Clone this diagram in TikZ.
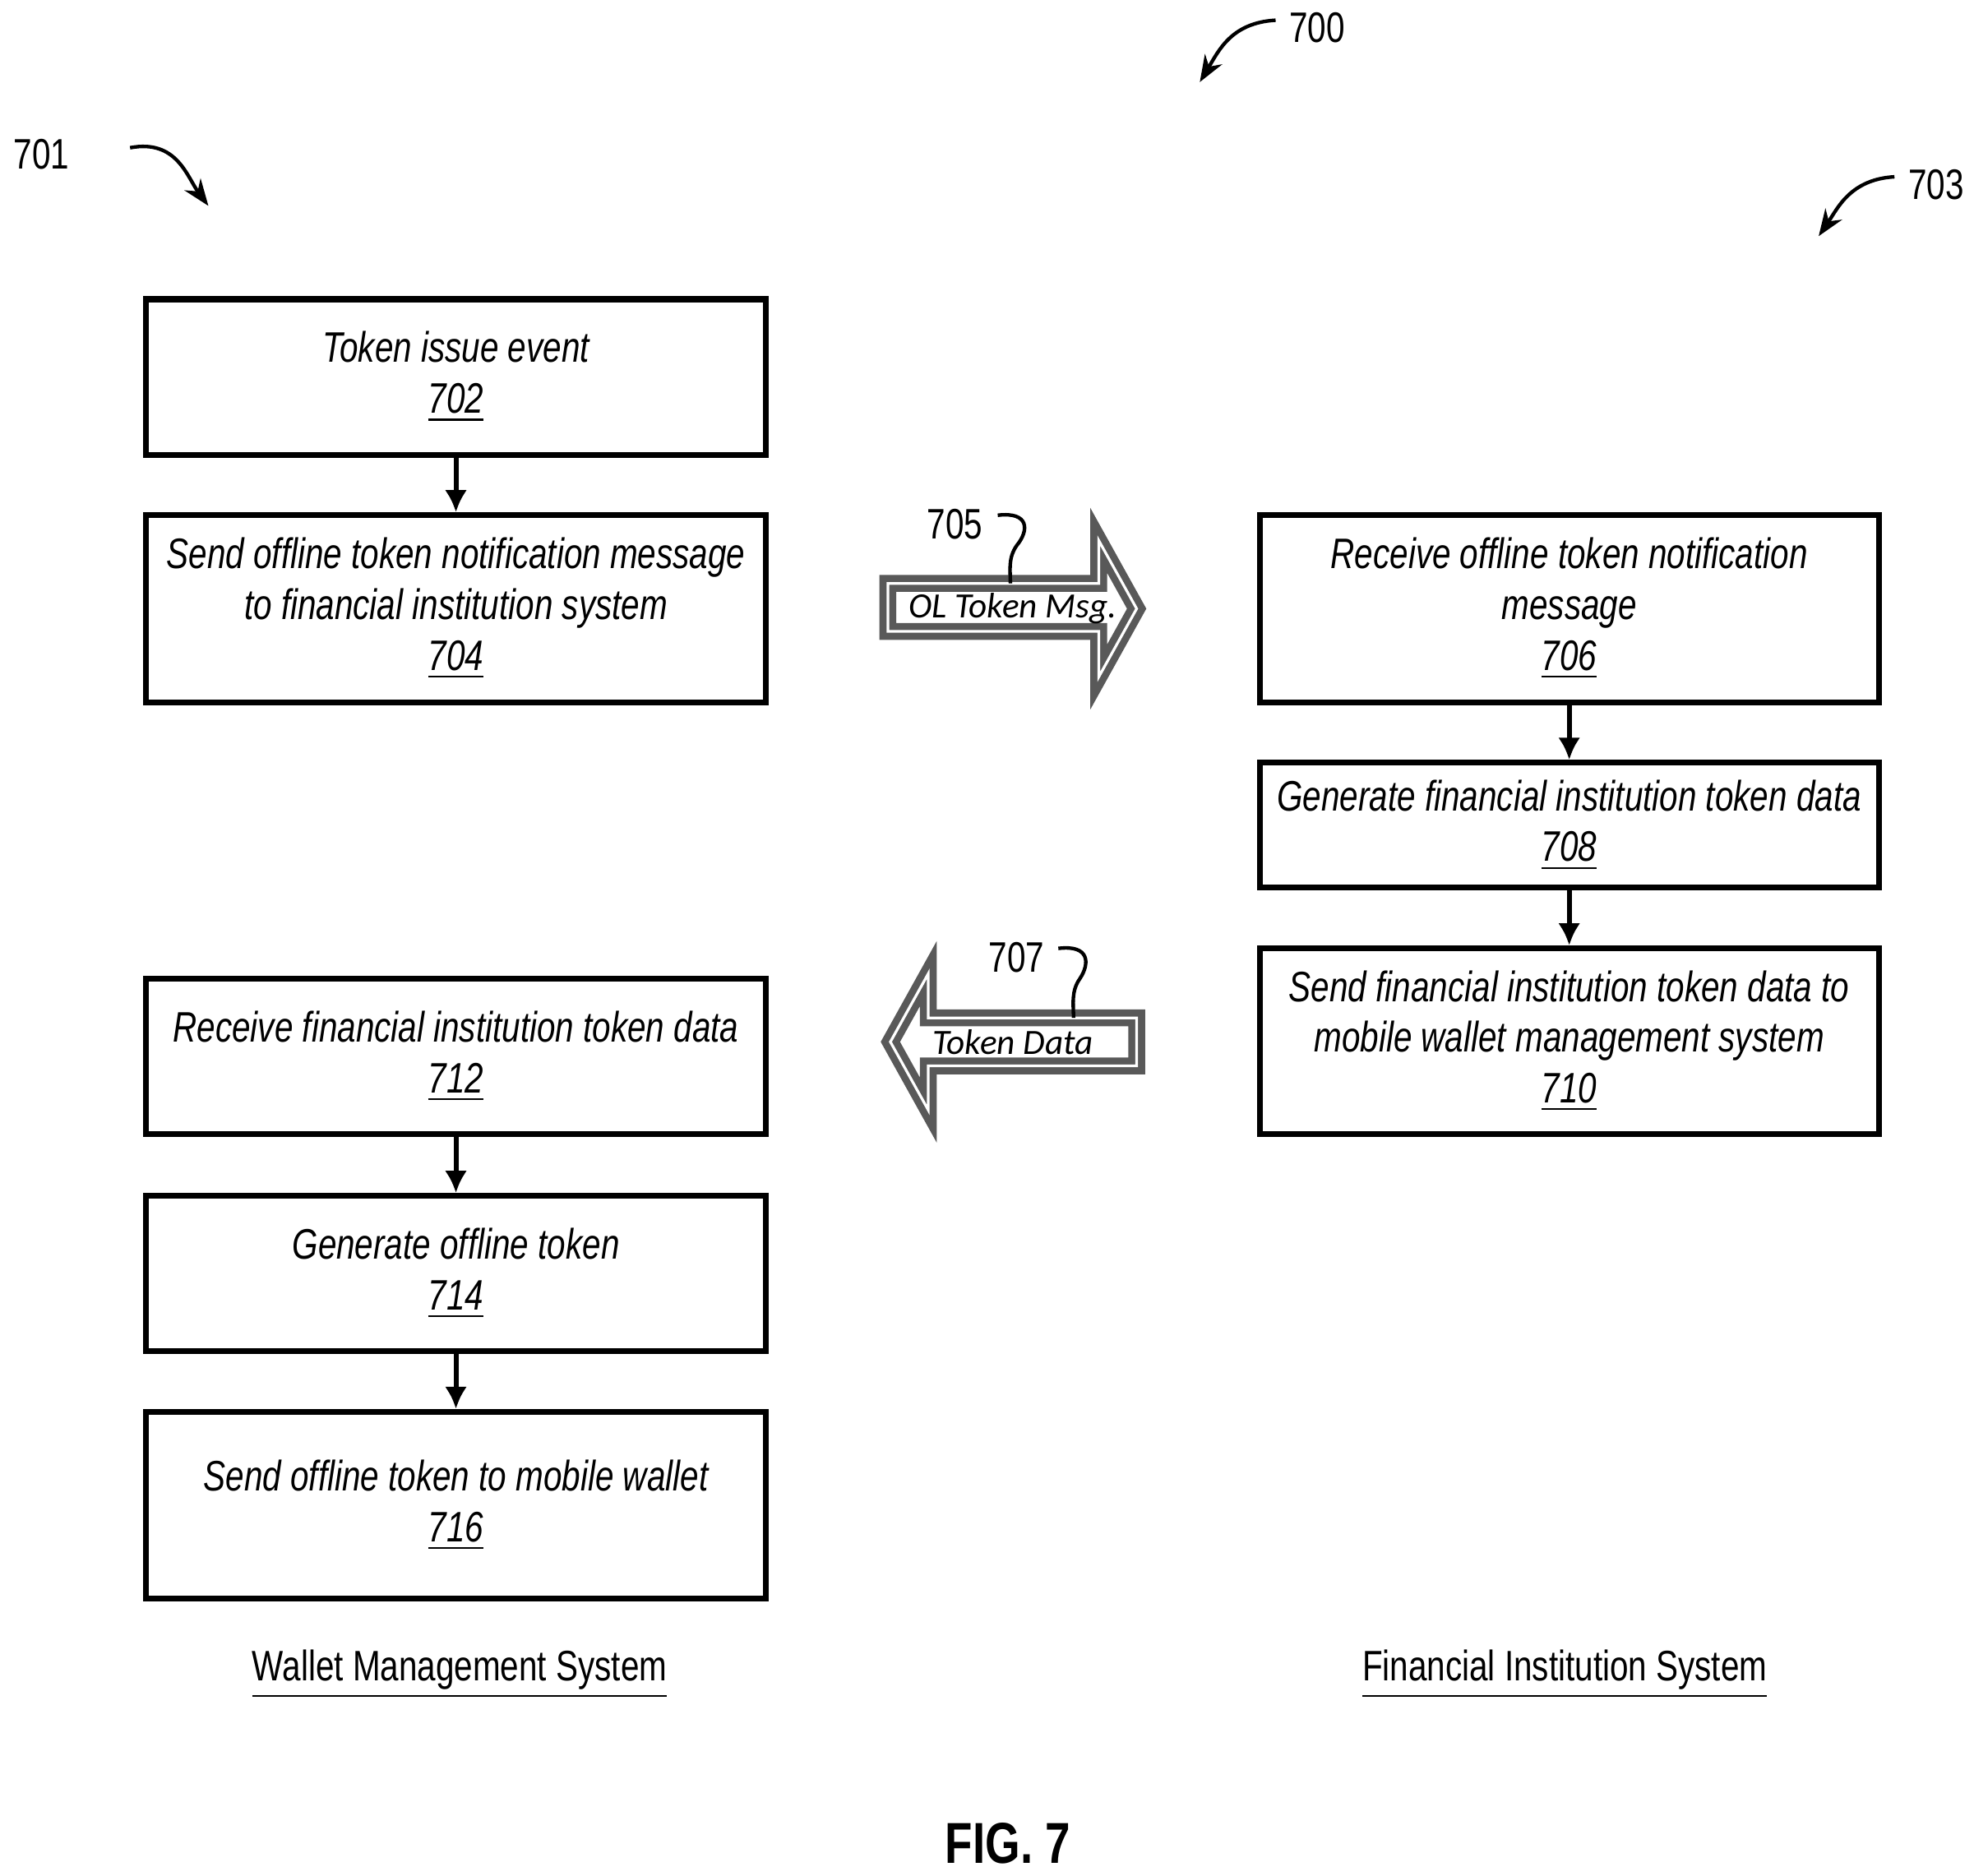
\documentclass[tikz,border=0pt]{standalone}
\usepackage{fontspec}
\usetikzlibrary{arrows.meta}
\setmainfont{Liberation Sans}
\newfontfamily\nar[FakeStretch=0.78]{Liberation Sans}
\newfontfamily\carl{Carlito}
\begin{document}
\begin{tikzpicture}[x=0.01cm,y=-0.01cm,
 box/.style={draw,line width=1.3pt,align=center,inner sep=0pt,minimum width=4.9cm,font=\nar\itshape\fontsize{9.6}{11.4}\selectfont},
 flow/.style={-{Latex[length=5pt,width=5pt]},line width=1.1pt},
 ref/.style={font=\nar\fontsize{9.6}{11}\selectfont},
 lead/.style={line width=0.8pt},
 blk/.style={draw=gray!70!black,line width=1.6pt,double=white,double distance=0.6pt,fill=white},
 blt/.style={font=\carl\itshape\fontsize{8}{9}\selectfont}]
\useasboundingbox (0,0) rectangle (1563,1485);
\node[box,minimum height=1.23cm] (b702) at (361,298.5) {Token issue event\\\underline{702}};
\node[box,minimum height=1.48cm] (b704) at (361,482) {Send offline token notification message\\to financial institution system\\\underline{704}};
\node[box,minimum height=1.48cm] (b706) at (1242.5,482) {Receive offline token notification\\message\\\underline{706}};
\node[box,minimum height=0.99cm] (b708) at (1242.5,653.5) {Generate financial institution token data\\\underline{708}};
\node[box,minimum height=1.47cm] (b710) at (1242.5,824.5) {Send financial institution token data to\\mobile wallet management system\\\underline{710}};
\node[box,minimum height=1.23cm] (b712) at (361,836.5) {Receive financial institution token data\\\underline{712}};
\node[box,minimum height=1.23cm] (b714) at (361,1008.5) {Generate offline token\\\underline{714}};
\node[box,minimum height=1.48cm] (b716) at (361,1192) {Send offline token to mobile wallet\\\underline{716}};
\draw[flow] (b702) -- (b704);
\draw[flow] (b712) -- (b714);
\draw[flow] (b714) -- (b716);
\draw[flow] (b706) -- (b708);
\draw[flow] (b708) -- (b710);
\node[ref] (wms) at (364,1326) {\underline{Wallet Management System}};
\node[ref] (fis) at (1239,1326) {\underline{Financial Institution System}};
\node[font=\nar\bfseries\fontsize{13}{15}\selectfont] (fig) at (798,1460) {FIG. 7};
\node[ref] (r700) at (1043,22) {700};
\coordinate (t700) at (950,65);
\draw[lead,-{Stealth[length=6pt]}] (1010,16) .. controls (975,18) and (965,40) .. (t700);
\node[ref] (r701) at (33,122) {701};
\coordinate (t701) at (165,163);
\draw[lead,-{Stealth[length=6pt]}] (103,117) .. controls (140,110) and (148,140) .. (t701);
\node[ref] (r703) at (1533,146) {703};
\coordinate (t703) at (1440,187);
\draw[lead,-{Stealth[length=6pt]}] (1500,140) .. controls (1465,142) and (1455,165) .. (t703);
\draw[blk] (703,462) -- (870,462) -- (870,428) -- (900,482) -- (870,536) -- (870,500) -- (703,500) -- cycle;
\node[blt] (m705) at (802,482) {OL Token Msg.};
\draw[blk] (900,806) -- (735,806) -- (735,771) -- (705,825) -- (735,879) -- (735,844) -- (900,844) -- cycle;
\node[blt] (m707) at (802,825) {Token Data};
\node[ref] (r705) at (756,415) {705};
\coordinate (s705) at (800,462);
\draw[lead] (790,408) .. controls (815,405) and (815,420) .. (805,432) .. controls (798,442) and (800,452) .. (s705);
\node[ref] (r707) at (805,758) {707};
\coordinate (s707) at (850,806);
\draw[lead] (838,751) .. controls (863,748) and (863,763) .. (855,775) .. controls (848,785) and (850,795) .. (s707);
\end{tikzpicture}
\end{document}
